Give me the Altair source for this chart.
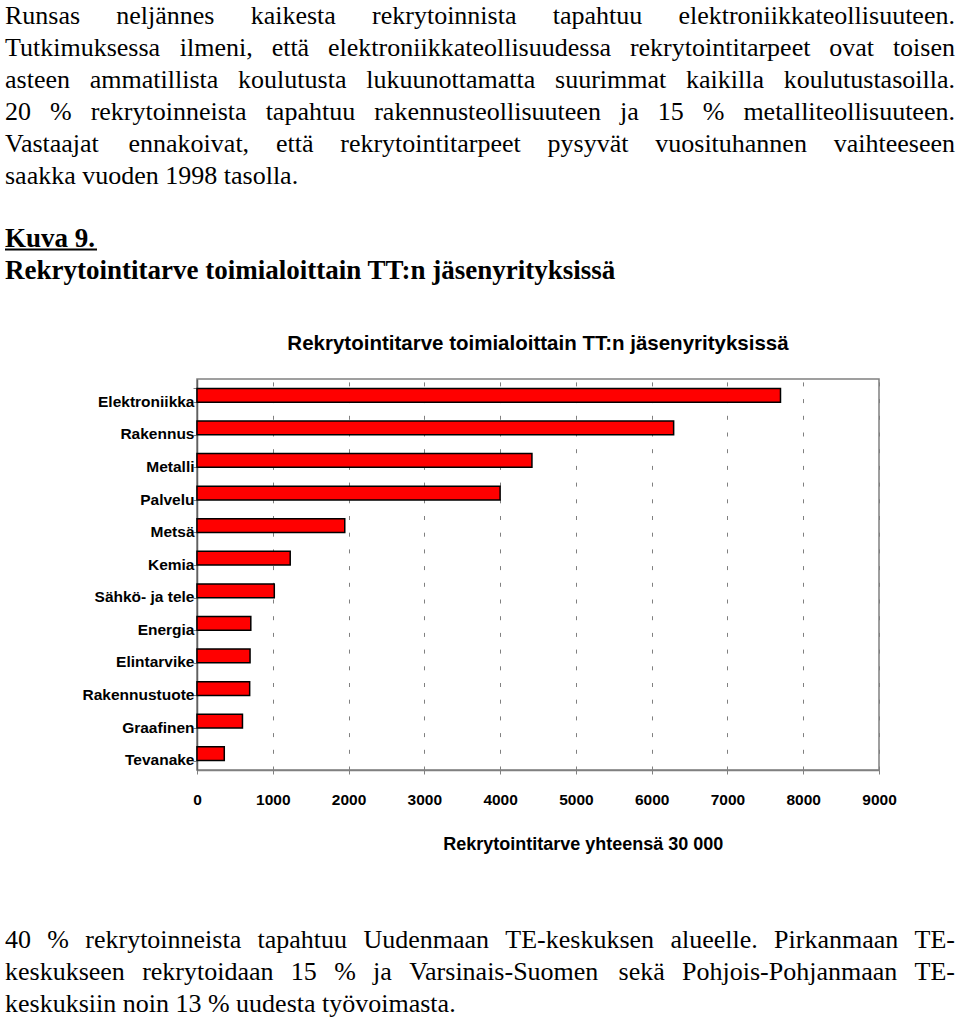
import altair as alt
import pandas as pd

# ---------------- data ----------------
categories = ["Elektroniikka", "Rakennus", "Metalli", "Palvelu", "Metsä", "Kemia",
              "Sähkö- ja tele", "Energia", "Elintarvike", "Rakennustuote",
              "Graafinen", "Tevanake"]
values = [7700, 6290, 4420, 4000, 1950, 1230, 1020, 710, 700, 695, 600, 360]
x_ticks = [0, 1000, 2000, 3000, 4000, 5000, 6000, 7000, 8000, 9000]

chart_title = "Rekrytointitarve toimialoittain TT:n jäsenyrityksissä"
x_title = "Rekrytointitarve yhteensä 30 000"

para1 = [
    "Runsas neljännes kaikesta rekrytoinnista tapahtuu elektroniikkateollisuuteen.",
    "Tutkimuksessa ilmeni, että elektroniikkateollisuudessa rekrytointitarpeet ovat toisen",
    "asteen ammatillista koulutusta lukuunottamatta suurimmat kaikilla koulutustasoilla.",
    "20 % rekrytoinneista tapahtuu rakennusteollisuuteen ja 15 % metalliteollisuuteen.",
    "Vastaajat ennakoivat, että rekrytointitarpeet pysyvät vuosituhannen vaihteeseen",
    "saakka vuoden 1998 tasolla.",
]
caption_label = "Kuva 9."
caption_text = "Rekrytointitarve toimialoittain TT:n jäsenyrityksissä"
para2 = [
    "40 % rekrytoinneista tapahtuu Uudenmaan TE-keskuksen alueelle. Pirkanmaan TE-",
    "keskukseen rekrytoidaan 15 % ja Varsinais-Suomen sekä Pohjois-Pohjanmaan TE-",
    "keskuksiin noin 13 % uudesta työvoimasta.",
]

# ---------------- layout ----------------
PAD_L, PAD_T = 197, 379
W, H = 682, 391
PAD_R = 960 - PAD_L - W
PAD_B = 1022 - PAD_T - H
TEXT_L, TEXT_R = 5, 955
FS = 26
LINE = 32
P1_BASE = 23.5
CAP_BASE = [247, 278.5]
P2_BASE = 947.5
SERIF = "Liberation Serif, Times New Roman, Times, serif"
SANS = "Liberation Sans, Arial, Helvetica, sans-serif"

# Times / Liberation Serif advance widths (per 1000 em)
TW = {c: 500 for c in "0123456789"}
TW.update({" ": 250, ".": 250, ",": 250, "-": 333, "%": 833, ":": 278})
TW.update(dict(zip("abcdefghijklmnopqrstuvwxyz",
                   [444, 500, 444, 500, 444, 333, 500, 500, 278, 278, 500, 278, 778,
                    500, 500, 500, 500, 333, 389, 278, 500, 500, 722, 500, 500, 444])))
TW.update(dict(zip("ABCDEFGHIJKLMNOPQRSTUVWXYZ",
                   [722, 667, 667, 722, 611, 556, 722, 722, 333, 389, 722, 611, 889,
                    722, 722, 556, 722, 667, 556, 611, 722, 722, 944, 722, 722, 611])))
TW.update({"ä": 444, "ö": 500})


def wwidth(s):
    return sum(TW.get(c, 500) for c in s) * FS / 1000.0


def layout(lines, base0):
    rows = []
    for i, line in enumerate(lines):
        y = base0 + i * LINE - PAD_T
        words = line.split(" ")
        widths = [wwidth(w) for w in words]
        last = i == len(lines) - 1
        if last or len(words) < 2:
            gap = wwidth(" ")
        else:
            gap = (TEXT_R - TEXT_L - sum(widths)) / (len(words) - 1)
        x = TEXT_L
        for w, wd in zip(words, widths):
            rows.append({"word": w, "x": x - PAD_L, "y": y})
            x += wd + gap
    return rows


body_df = pd.DataFrame(layout(para1, P1_BASE) + layout(para2, P2_BASE))
cap_df = pd.DataFrame({
    "t": [caption_label, caption_text],
    "x": [TEXT_L - PAD_L, TEXT_L - PAD_L],
    "y": [CAP_BASE[0] - PAD_T, CAP_BASE[1] - PAD_T],
})
under_df = pd.DataFrame({"x": [TEXT_L - PAD_L], "x2": [97 - PAD_L],
                         "y": [CAP_BASE[0] + 2.5 - PAD_T]})
title_df = pd.DataFrame({"t": [chart_title]})
bar_df = pd.DataFrame({"cat": categories, "value": values})

bars = alt.Chart(bar_df).mark_bar(color="#ff0000", stroke="black", strokeWidth=1.5).encode(
    x=alt.X("value:Q",
            scale=alt.Scale(domain=[0, 9000], nice=False, zero=True),
            axis=alt.Axis(values=x_ticks, title=x_title, format="d",
                          grid=True, gridDash=[4, 12.7], gridColor="#808080", gridWidth=1,
                          tickColor="#808080", tickSize=4, tickWidth=1,
                          domainColor="#808080", domainWidth=1.5,
                          labelFont=SANS, labelFontWeight="bold", labelFontSize=15.5,
                          labelColor="black", labelPadding=18, labelFlush=False,
                          labelOverlap=False,
                          titleFont=SANS, titleFontWeight="bold", titleFontSize=18,
                          titleColor="black", titleX=385.8, titleY=79,
                          titleAlign="center", titleBaseline="alphabetic")),
    y=alt.Y("cat:N", sort=categories,
            scale=alt.Scale(paddingInner=0.58, paddingOuter=0.29),
            axis=alt.Axis(title=None, tickBand="extent", tickSize=4, tickColor="#808080",
                          domainColor="#606060", domainWidth=1.5, grid=False,
                          labelFont=SANS, labelFontWeight="bold", labelFontSize=15.5,
                          labelColor="black", labelPadding=-1, labelOffset=6,
                          labelLimit=0)),
)

body = alt.Chart(body_df).mark_text(align="left", baseline="alphabetic",
                                    font=SERIF, fontSize=FS,
                                    color="black").encode(
    x=alt.X("x:Q", scale=None, axis=None),
    y=alt.Y("y:Q", scale=None, axis=None),
    text="word:N",
)

caption = alt.Chart(cap_df).mark_text(align="left", baseline="alphabetic",
                                      font=SERIF, fontSize=27,
                                      fontWeight="bold", color="black").encode(
    x=alt.X("x:Q", scale=None, axis=None),
    y=alt.Y("y:Q", scale=None, axis=None),
    text="t:N",
)

underline = alt.Chart(under_df).mark_rule(color="black", strokeWidth=2).encode(
    x=alt.X("x:Q", scale=None, axis=None),
    x2="x2:Q",
    y=alt.Y("y:Q", scale=None, axis=None),
)

ctitle = alt.Chart(title_df).mark_text(align="center", baseline="alphabetic",
                                       font=SANS, fontWeight="bold", fontSize=20.5,
                                       color="black").encode(
    x=alt.value(W / 2),
    y=alt.value(350 - PAD_T),
    text="t:N",
)

chart = alt.layer(bars, body, caption, underline, ctitle).resolve_scale(
    x="independent", y="independent"
).properties(
    width=W, height=H,
    autosize=alt.AutoSizeParams(type="none"),
    padding={"left": PAD_L, "top": PAD_T, "right": PAD_R, "bottom": PAD_B},
    background="white",
).configure_view(stroke="#808080", strokeWidth=1.5)

chart.save("out.html", embed_options={"renderer": "svg", "actions": False})
